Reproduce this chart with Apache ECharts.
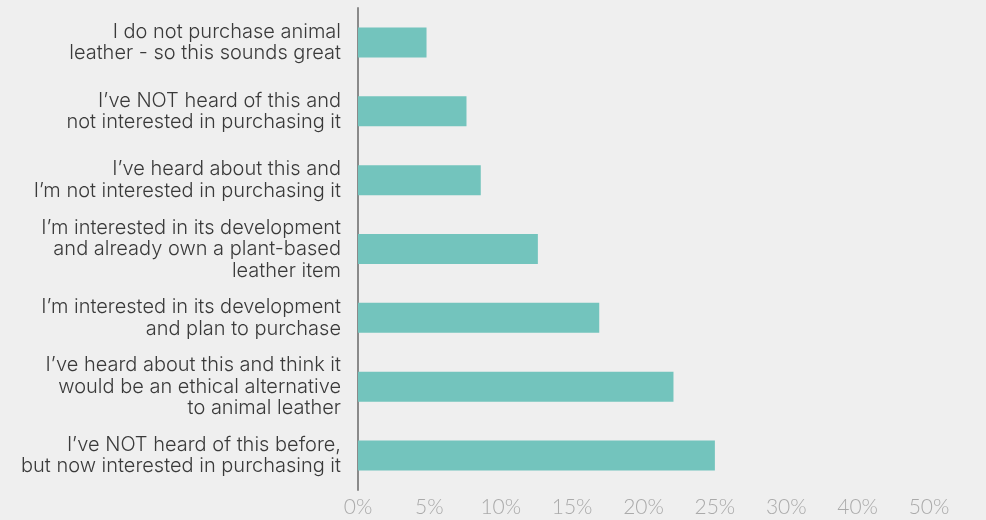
<!DOCTYPE html>
<html>
<head>
<meta charset="utf-8">
<title>Plant-based leather</title>
<script src="https://cdn.jsdelivr.net/npm/echarts@6/dist/echarts.min.js"></script>
<style>
  html, body { margin: 0; padding: 0; background: #efefef; }
  #chart { width: 986px; height: 520px; }
</style>
</head>
<body>
<div id="chart"></div>
<script>
// answers, top to bottom
const categories = [
  'I do not purchase animal\nleather - so this sounds great',
  'I\u2019ve NOT heard of this and\nnot interested in purchasing it',
  'I\u2019ve heard about this and\nI\u2019m not interested in purchasing it',
  'I\u2019m interested in its development\nand already own a plant-based\nleather item',
  'I\u2019m interested in its development\nand plan to purchase',
  'I\u2019ve heard about this and think it\nwould be an ethical alternative\nto animal leather',
  'I\u2019ve NOT heard of this before,\nbut now interested in purchasing it'
];
// share of respondents (%)
const values = [4.8, 7.6, 8.6, 12.6, 16.9, 22.1, 25.0];
// tick labels as printed under the axis
const tickLabels = ['0%', '5%', '10%', '15%', '20%', '25%', '30%', '40%', '50%'];

const chart = echarts.init(document.getElementById('chart'));
const option = {
  backgroundColor: '#efefef',
  animation: false,
  grid: { left: 358, right: 57, top: 8, bottom: 30, containLabel: false },
  xAxis: {
    type: 'value',
    min: 0,
    max: 40,
    interval: 5,
    splitLine: { show: false },
    axisLine: { show: false },
    axisTick: { show: false },
    axisLabel: {
      color: '#aaaaaa',
      fontFamily: 'Lato',
      fontSize: 21,
      fontWeight: 300,
      margin: 7,
      formatter: (v) => tickLabels[Math.round(v / 5)]
    }
  },
  yAxis: {
    type: 'category',
    inverse: true,
    data: categories,
    axisLine: { show: true, lineStyle: { color: '#8a8a8a', width: 2 } },
    axisTick: { show: false },
    axisLabel: {
      color: '#3a3a3a',
      fontFamily: 'Inter',
      fontSize: 20,
      fontWeight: 300,
      lineHeight: 21.5,
      align: 'right',
      margin: 17
    }
  },
  series: [
    {
      type: 'bar',
      data: values,
      barWidth: 30,
      itemStyle: { color: '#73c4bd' }
    }
  ]
};
chart.setOption(option);
</script>
</body>
</html>
